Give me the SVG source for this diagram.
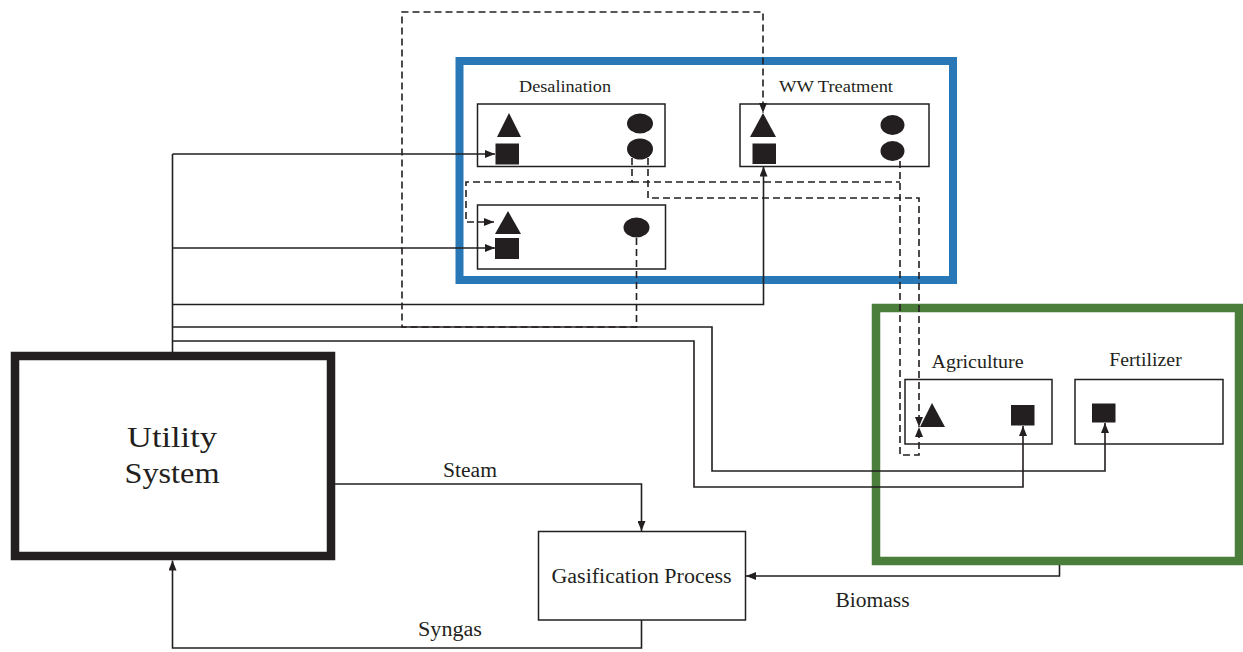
<svg xmlns="http://www.w3.org/2000/svg" width="1243" height="652" viewBox="0 0 1243 652">
  <style>
    text { font-family: "Liberation Serif", "Times New Roman", serif; fill: #231f20; }
    .lbl { font-size: 16.5px; text-anchor: middle; }
    .lbl2 { font-size: 18.5px; text-anchor: middle; }
    .flow { font-size: 20px; text-anchor: middle; }
    .box { fill: #ffffff; stroke: #231f20; stroke-width: 1.5; }
    .mark { fill: #231f20; stroke: none; }
    .solid { fill: none; stroke: #231f20; stroke-width: 1.6; }
    .dash { fill: none; stroke: #231f20; stroke-width: 1.6; stroke-dasharray: 7 4; }
  </style>
  <defs>
    <marker id="arrow" viewBox="0 0 10 8" refX="10" refY="4" markerWidth="10" markerHeight="8" markerUnits="userSpaceOnUse" orient="auto">
      <path d="M0,0 L10,4 L0,8 z" fill="#231f20"/>
    </marker>
  </defs>

  <rect width="1243" height="652" fill="#ffffff"/>

  <!-- water cluster frame -->
  <g id="water-cluster">
    <rect x="459.5" y="61" width="493.5" height="219" fill="none" stroke="#2878b8" stroke-width="8"/>
  </g>

  <!-- agriculture cluster frame -->
  <g id="agri-cluster">
    <rect x="876" y="308" width="363" height="253" fill="none" stroke="#4b7d3b" stroke-width="8.5"/>
  </g>

  <g id="desalination">
    <text class="lbl" x="565" y="92" textLength="92" lengthAdjust="spacingAndGlyphs">Desalination</text>
    <rect class="box" x="477.5" y="104" width="187.5" height="62.5"/>
    <polygon class="mark" points="509,113 521,137 497,137"/>
    <rect class="mark" x="495.5" y="143.5" width="23.5" height="21"/>
    <ellipse class="mark" cx="640" cy="123.5" rx="13" ry="10"/>
    <ellipse class="mark" cx="640" cy="149" rx="13" ry="10.5"/>
  </g>

  <g id="ww-treatment">
    <text class="lbl" x="836" y="92" textLength="114" lengthAdjust="spacingAndGlyphs">WW Treatment</text>
    <rect class="box" x="740" y="104" width="189" height="62.5"/>
    <polygon class="mark" points="763,113 776,137 750,137"/>
    <rect class="mark" x="752.5" y="143.5" width="23.5" height="20.5"/>
    <ellipse class="mark" cx="892.5" cy="125" rx="12" ry="10"/>
    <ellipse class="mark" cx="892.5" cy="151" rx="12" ry="10"/>
  </g>

  <g id="water-unit">
    <rect class="box" x="477.5" y="205" width="188" height="64"/>
    <polygon class="mark" points="508,211 521,234 495,234"/>
    <rect class="mark" x="495" y="238" width="24" height="21"/>
    <ellipse class="mark" cx="636.5" cy="227.5" rx="13" ry="10"/>
  </g>

  <g id="agriculture">
    <text class="lbl2" x="977.5" y="368" textLength="92" lengthAdjust="spacingAndGlyphs">Agriculture</text>
    <rect class="box" x="905" y="379.5" width="147" height="64.5"/>
    <polygon class="mark" points="932,403 945,427 920,427"/>
    <rect class="mark" x="1011" y="405" width="23.5" height="20.5"/>
  </g>

  <g id="fertilizer">
    <text class="lbl2" x="1145.5" y="366" textLength="72.5" lengthAdjust="spacingAndGlyphs">Fertilizer</text>
    <rect class="box" x="1075" y="379.5" width="148" height="64.5"/>
    <rect class="mark" x="1092" y="403.5" width="23.5" height="19"/>
  </g>

  <g id="utility-system">
    <rect x="15" y="356" width="316" height="200" fill="#ffffff" stroke="#231f20" stroke-width="8.5"/>
    <text x="172" y="447" font-size="29" text-anchor="middle" textLength="90" lengthAdjust="spacingAndGlyphs">Utility</text>
    <text x="172" y="483" font-size="29" text-anchor="middle" textLength="95" lengthAdjust="spacingAndGlyphs">System</text>
  </g>

  <g id="gasification">
    <rect class="box" x="538.5" y="531.5" width="207" height="88.5"/>
    <text class="flow" x="641.5" y="583" textLength="180" lengthAdjust="spacingAndGlyphs">Gasification Process</text>
  </g>

  <g id="connectors">
    <!-- utility supply trunk -->
    <path class="solid" d="M172.5,352 V154"/>
    <path class="solid" d="M172.5,154 H495" marker-end="url(#arrow)"/>
    <path class="solid" d="M172.5,248 H495" marker-end="url(#arrow)"/>
    <path class="solid" d="M172.5,304.5 H763.5 V166.5" marker-end="url(#arrow)"/>
    <path class="solid" d="M172.5,327 H712 V471 H1105 V423" marker-end="url(#arrow)"/>
    <path class="solid" d="M172.5,341 H694 V487 H1023 V426" marker-end="url(#arrow)"/>

    <!-- water exchange (dashed) -->
    <path class="dash" d="M636.5,238 V327 H402 V12 H763 V113" marker-end="url(#arrow)"/>
    <path class="dash" d="M632,158 V182 H466 V222 H494" marker-end="url(#arrow)"/>
    <path class="dash" d="M632,182 H900"/>
    <path class="dash" d="M900,161 V455 H919 V427" marker-end="url(#arrow)"/>
    <path class="dash" d="M648,158 V198 H919 V427" marker-end="url(#arrow)"/>

    <!-- steam, syngas, biomass -->
    <path class="solid" d="M335,484 H641.5 V531" marker-end="url(#arrow)"/>
    <path class="solid" d="M641.5,620 V648 H172.5 V560.5" marker-end="url(#arrow)"/>
    <path class="solid" d="M1059.5,565 V576 H746" marker-end="url(#arrow)"/>

    <text class="flow" x="470" y="477" textLength="54" lengthAdjust="spacingAndGlyphs">Steam</text>
    <text class="flow" x="872.5" y="607" textLength="74" lengthAdjust="spacingAndGlyphs">Biomass</text>
    <text class="flow" x="450" y="636" textLength="64" lengthAdjust="spacingAndGlyphs">Syngas</text>
  </g>
</svg>
